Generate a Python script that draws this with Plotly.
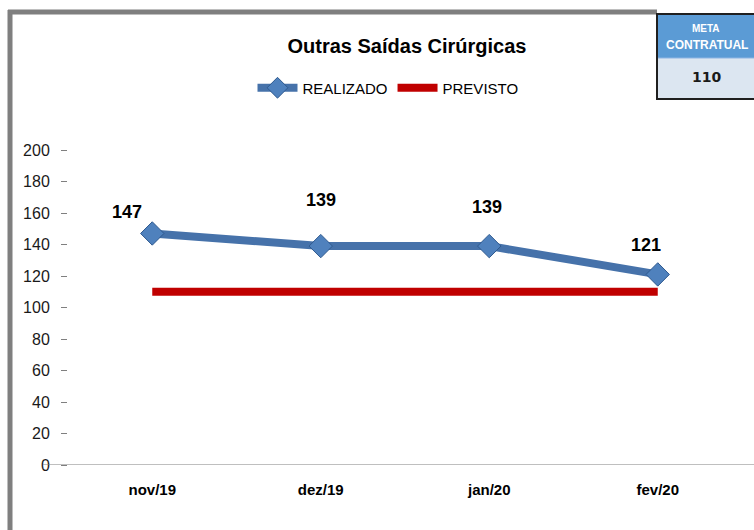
import plotly.graph_objects as go

categories = ["nov/19", "dez/19", "jan/20", "fev/20"]
realizado = [147, 139, 139, 121]
previsto = [110, 110, 110, 110]
y_ticks = [0, 20, 40, 60, 80, 100, 120, 140, 160, 180, 200]
meta_value = 110

# label offsets (px) to mimic the original data-label placement
label_dx = [-25, 0, -2, -12]
label_dy = [21, 46, 39, 29]

W, H = 754, 530
L, R, T, B = 68, 12, 150, 65


def px_x(p):
    return (p - L) / (W - L - R)


def px_y(p):
    return (H - B - p) / (H - T - B)


fig = go.Figure()
fig.add_trace(go.Scatter(
    x=categories, y=previsto, mode="lines", name="PREVISTO",
    line=dict(color="#C00000", width=8),
))
fig.add_trace(go.Scatter(
    x=categories, y=realizado, mode="lines+markers", name="REALIZADO",
    line=dict(color="#4672AA", width=8),
    marker=dict(symbol="diamond", size=18, color="#4F81BD",
                line=dict(color="#2F5A8F", width=1)),
))

for i, (c, v) in enumerate(zip(categories, realizado)):
    fig.add_annotation(x=c, y=v, text=f"<b>{v}</b>", showarrow=False,
                       xshift=label_dx[i], yshift=label_dy[i],
                       font=dict(family="Liberation Sans Narrow, Liberation Sans, Arial", size=18, color="#000000"))

# outer gray frame (left & top)
fig.add_shape(type="line", xref="paper", yref="paper",
              x0=px_x(10), x1=px_x(10), y0=px_y(540), y1=px_y(10),
              line=dict(color="#7F7F7F", width=5))
fig.add_shape(type="line", xref="paper", yref="paper",
              x0=px_x(8), x1=px_x(657), y0=px_y(12), y1=px_y(12),
              line=dict(color="#7F7F7F", width=5))
# baseline
fig.add_shape(type="line", xref="paper", yref="y",
              x0=px_x(43), x1=px_x(760), y0=0, y1=0,
              line=dict(color="#7F7F7F", width=1))

# meta box
fig.add_shape(type="rect", xref="paper", yref="paper",
              x0=px_x(657), x1=px_x(760), y0=px_y(58), y1=px_y(14),
              fillcolor="#5B9BD5", line=dict(width=0))
fig.add_shape(type="rect", xref="paper", yref="paper",
              x0=px_x(657), x1=px_x(760), y0=px_y(98), y1=px_y(58),
              fillcolor="#DCE6F1", line=dict(width=0))
fig.add_shape(type="line", xref="paper", yref="paper",
              x0=px_x(657), x1=px_x(760), y0=px_y(58), y1=px_y(58),
              line=dict(color="#8EB4E3", width=1))
fig.add_shape(type="rect", xref="paper", yref="paper",
              x0=px_x(657), x1=px_x(760), y0=px_y(99), y1=px_y(14),
              fillcolor="rgba(0,0,0,0)", line=dict(color="#1F1F1F", width=2))
fig.add_annotation(xref="paper", yref="paper", x=px_x(706), y=px_y(28),
                   text="<b>META</b>", showarrow=False, xanchor="center", yanchor="middle",
                   font=dict(family="Liberation Sans Narrow, Liberation Sans", size=10, color="#FFFFFF"))
fig.add_annotation(xref="paper", yref="paper", x=px_x(707), y=px_y(45),
                   text="<b>CONTRATUAL</b>", showarrow=False, xanchor="center", yanchor="middle",
                   font=dict(family="Liberation Sans Narrow, Liberation Sans", size=12, color="#FFFFFF"))
fig.add_annotation(xref="paper", yref="paper", x=px_x(706), y=px_y(77),
                   text=f"<b>{meta_value}</b>", showarrow=False, xanchor="center", yanchor="middle",
                   font=dict(family="DejaVu Sans", size=14, color="#1A1A1A"))

fig.update_layout(
    width=W, height=H,
    margin=dict(l=L, r=R, t=T, b=B),
    paper_bgcolor="white", plot_bgcolor="white",
    title=dict(text="<b>Outras Saídas Cirúrgicas</b>", x=407 / W, xanchor="center",
               y=1 - 46 / H, yanchor="middle",
               font=dict(family="Liberation Sans Narrow, Liberation Sans, Arial", size=20, color="#000000")),
    showlegend=True,
    legend=dict(orientation="h", x=px_x(388), xanchor="center", y=px_y(88), yanchor="middle",
                traceorder="reversed",
                font=dict(family="Liberation Sans Narrow, Liberation Sans, Arial", size=15, color="#000000"),
                itemwidth=40),
    xaxis=dict(type="category", range=[-0.5, 3.5], showgrid=False, showline=False, zeroline=False,
               ticks="", ticklabelstandoff=14,
               tickfont=dict(family="Liberation Sans Narrow, Liberation Sans, Arial", size=15, color="#000000"),
               tickprefix="<b>", ticksuffix="</b>"),
    yaxis=dict(range=[0, 200], tickvals=y_ticks, showgrid=False, showline=False, zeroline=False,
               ticks="outside", ticklen=6, tickcolor="#7F7F7F", ticklabelstandoff=8,
               tickfont=dict(family="Liberation Sans Narrow, Liberation Sans, Arial", size=16, color="#1A1A1A")),
)

fig.write_html("out.html", config={"displayModeBar": False},
               post_script="document.body.style.margin='0';document.body.style.overflow='hidden';")
